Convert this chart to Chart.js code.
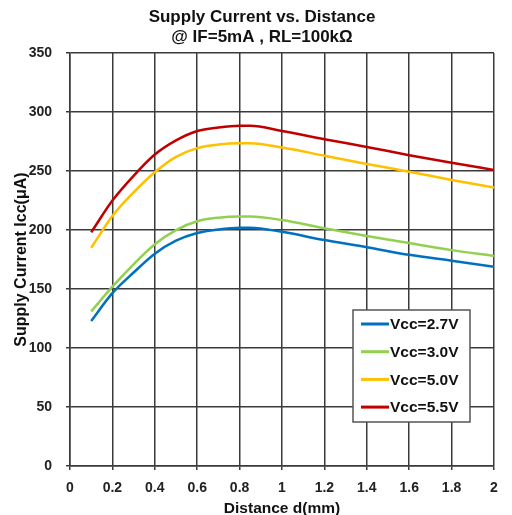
<!DOCTYPE html>
<html>
<head>
<meta charset="utf-8">
<script src="https://cdn.jsdelivr.net/npm/chart.js@4/dist/chart.umd.min.js"></script>
<style>
  html, body { margin: 0; padding: 0; background: #fff; }
  #wrap { width: 512px; height: 515px; }
</style>
</head>
<body>
<div id="wrap"><canvas id="c"></canvas></div>
<script>
// distance (mm) sample points
const distance = [0.1, 0.2, 0.3, 0.4, 0.5, 0.6, 0.7, 0.8, 0.85, 1.0, 1.2, 1.4, 1.6, 1.8, 2.0];

// supply current (uA) per Vcc
const vcc27 = [123, 146.5, 164, 180, 191, 197.5, 200.5, 202, 202, 198.5, 191.5, 185.5, 179, 174, 169];
const vcc30 = [131, 152, 171, 188, 200, 207.5, 210.5, 211.5, 211.5, 208.5, 201.5, 195, 189, 183, 178];
const vcc50 = [185, 212, 232, 249, 262, 269.5, 272.5, 273.5, 273.5, 270, 263, 256, 249.5, 242.5, 236];
const vcc55 = [198, 225, 246, 264, 276, 284, 287, 288.5, 288.5, 284, 277, 270.5, 263.5, 257, 251];

const seriesLabels = ['Vcc=2.7V', 'Vcc=3.0V', 'Vcc=5.0V', 'Vcc=5.5V'];
const seriesColors = ['#0070C0', '#92D050', '#FFC000', '#C00000'];

const xTicks = [0, 0.2, 0.4, 0.6, 0.8, 1, 1.2, 1.4, 1.6, 1.8, 2];
const yTicks = [0, 50, 100, 150, 200, 250, 300, 350];

const gridColor = '#3a3a3a';
const font = 'Arial, "Liberation Sans", sans-serif';

function toPoints(ys){ return ys.map((y, i) => ({ x: distance[i], y })); }

// legend box drawn inside the plot area, bottom right
const boxLegend = {
  id: 'boxLegend',
  afterDraw(chart){
    const ctx = chart.ctx;
    const a = chart.chartArea;
    const w = 117, h = 112;
    const left = a.right - 141, top = a.bottom - 44 - h;
    ctx.save();
    ctx.fillStyle = '#fff';
    ctx.fillRect(left, top, w, h);
    ctx.strokeStyle = '#555';
    ctx.lineWidth = 1.5;
    ctx.strokeRect(left, top, w, h);
    ctx.font = 'bold 15.5px ' + font;
    ctx.textBaseline = 'middle';
    chart.data.datasets.forEach((ds, i) => {
      const y = top + 14 + i * 27.7;
      ctx.strokeStyle = ds.borderColor;
      ctx.lineWidth = 3;
      ctx.beginPath();
      ctx.moveTo(left + 8, y);
      ctx.lineTo(left + 36, y);
      ctx.stroke();
      ctx.fillStyle = '#111';
      ctx.fillText(ds.label, left + 37, y + 1);
    });
    ctx.restore();
  }
};

const datasets = [vcc27, vcc30, vcc50, vcc55].map((ys, i) => ({
  label: seriesLabels[i],
  data: toPoints(ys),
  borderColor: seriesColors[i],
  backgroundColor: seriesColors[i],
  borderWidth: 2.5,
  pointRadius: 0,
  cubicInterpolationMode: 'monotone',
  fill: false
}));

new Chart(document.getElementById('c'), {
  type: 'line',
  data: { datasets },
  options: {
    responsive: true,
    maintainAspectRatio: false,
    animation: false,
    layout: { padding: { left: 12, right: 0, top: 0, bottom: 0 } },
    plugins: {
      legend: { display: false },
      tooltip: { enabled: false },
      title: {
        display: true,
        text: ['Supply Current vs. Distance', '@ IF=5mA , RL=100k\u03A9'],
        color: '#111',
        font: { family: font, size: 17, weight: 'bold', lineHeight: 1.18 },
        padding: { top: 7, bottom: 6 }
      }
    },
    scales: {
      x: {
        type: 'linear',
        min: 0, max: 2,
        afterBuildTicks: s => { s.ticks = xTicks.map(v => ({ value: v })); },
        afterFit: s => { s.height = 49; },
        ticks: {
          color: '#222',
          font: { family: font, size: 14, weight: 'bold' },
          padding: 10,
          maxRotation: 0,
          callback: v => String(Math.round(v * 10) / 10)
        },
        grid: { color: gridColor, lineWidth: 1.5, tickLength: 4 },
        border: { color: gridColor, width: 1.5 },
        title: {
          display: true,
          text: 'Distance d(mm)',
          color: '#111',
          font: { family: font, size: 15.5, weight: 'bold' },
          padding: { top: -3, bottom: -3 }
        }
      },
      y: {
        min: 0, max: 350,
        afterBuildTicks: s => { s.ticks = yTicks.map(v => ({ value: v })); },
        afterFit: s => { s.width = 58; },
        ticks: {
          color: '#222',
          font: { family: font, size: 14, weight: 'bold' },
          padding: 14
        },
        grid: { color: gridColor, lineWidth: 1.5, tickLength: 4 },
        border: { color: gridColor, width: 1.5 },
        title: {
          display: true,
          text: 'Supply Current Icc(\u03BCA)',
          color: '#111',
          font: { family: font, size: 16, weight: 'bold' },
          padding: { top: 0, bottom: 0 }
        }
      },
      // spacer on the right so the plot ends where the reference does
      pad: {
        type: 'linear',
        position: 'right',
        display: true,
        grid: { display: false },
        border: { display: false },
        ticks: { display: false },
        afterFit: s => { s.width = 18; }
      }
    }
  },
  plugins: [boxLegend]
});
</script>
</body>
</html>
